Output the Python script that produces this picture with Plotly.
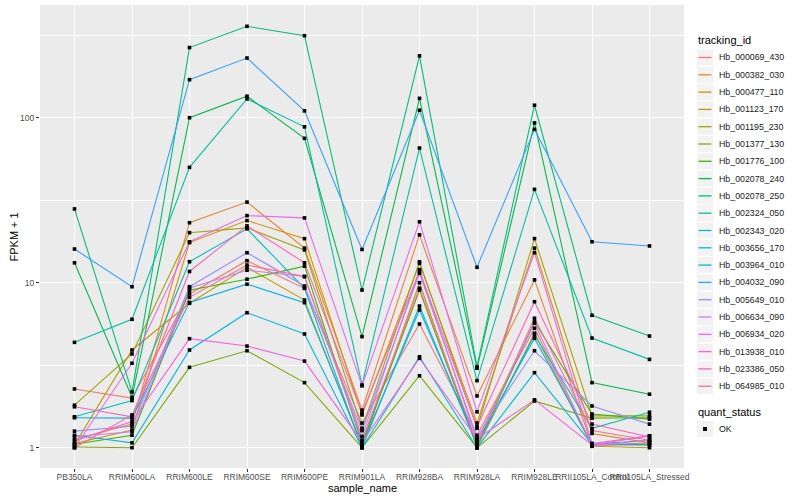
import plotly.graph_objects as go

samples = ["PB350LA", "RRIM600LA", "RRIM600LE", "RRIM600SE", "RRIM600PE", "RRIM901LA",
           "RRIM928BA", "RRIM928LA", "RRIM928LE", "RRII105LA_Control", "RRII105LA_Stressed"]

tracking_ids = ["Hb_000069_430", "Hb_000382_030", "Hb_000477_110", "Hb_001123_170", "Hb_001195_230",
                "Hb_001377_130", "Hb_001776_100", "Hb_002078_240", "Hb_002078_250", "Hb_002324_050",
                "Hb_002343_020", "Hb_003656_170", "Hb_003964_010", "Hb_004032_090", "Hb_005649_010",
                "Hb_006634_090", "Hb_006934_020", "Hb_013938_010", "Hb_023386_050", "Hb_064985_010"]

colors = ["#F8766D", "#EA8331", "#D89000", "#C09B00", "#A3A500", "#7CAE00", "#39B600", "#00BB4E",
          "#00BF7D", "#00C1A3", "#00BFC4", "#00BAE0", "#00B0F6", "#35A2FF", "#9590FF", "#C77CFF",
          "#E76BF3", "#FA62DB", "#FF62BC", "#FF6C91"]

# FPKM + 1 per gene, in sample order
fpkm_000069_430 = [2.27, 2.0, 8.55, 13.6, 9.25, 1.41, 5.62, 1.19, 5.3, 1.03, 1.07]
fpkm_000382_030 = [1.12, 1.39, 23.1, 30.8, 16.2, 1.69, 19.5, 2.06, 10.4, 1.04, 1.04]
fpkm_000477_110 = [1.06, 1.28, 17.5, 23.8, 18.5, 1.58, 13.1, 1.41, 16.2, 1.22, 1.07]
fpkm_001123_170 = [1.04, 3.91, 7.5, 12.4, 7.85, 1.02, 10.0, 1.0, 4.94, 1.02, 1.0]
fpkm_001195_230 = [1.81, 3.70, 20.1, 21.5, 15.8, 1.31, 13.4, 1.31, 18.5, 1.56, 1.56]
fpkm_001377_130 = [1.01, 1.0, 3.07, 3.87, 2.48, 1.0, 2.73, 1.0, 1.92, 1.51, 1.52]
fpkm_001776_100 = [1.05, 1.19, 9.0, 10.5, 12.6, 1.06, 9.03, 1.02, 5.8, 1.60, 1.49]
fpkm_002078_240 = [13.2, 2.02, 100, 135, 75, 4.71, 131, 3.03, 93, 2.48, 2.11]
fpkm_002078_250 = [28.0, 2.18, 266, 358, 314, 9.03, 237, 3.10, 119, 6.35, 4.75]
fpkm_002324_050 = [4.35, 6.0, 50, 130, 88, 2.40, 65.5, 2.55, 36.8, 4.62, 3.43]
fpkm_002343_020 = [1.54, 1.93, 13.4, 21.2, 9.25, 1.0, 7.22, 1.03, 4.82, 1.31, 1.64]
fpkm_003656_170 = [1.19, 1.07, 3.91, 6.58, 4.89, 1.0, 3.56, 1.0, 2.85, 1.05, 1.11]
fpkm_003964_010 = [1.52, 1.51, 7.6, 9.8, 7.57, 1.04, 6.84, 1.08, 4.6, 1.06, 1.04]
fpkm_004032_090 = [16.0, 9.45, 170, 230, 110, 15.9, 111, 12.4, 85, 17.7, 16.7]
fpkm_005649_010 = [1.26, 1.35, 9.46, 15.2, 9.55, 1.27, 11.4, 1.16, 3.87, 1.79, 1.39]
fpkm_006634_090 = [1.17, 1.25, 9.3, 11.9, 10.9, 1.17, 12.0, 1.11, 5.68, 1.03, 1.11]
fpkm_006934_020 = [1.0, 3.25, 17.7, 25.5, 24.7, 2.37, 23.4, 1.65, 15.2, 1.06, 1.18]
fpkm_013938_010 = [1.1, 1.44, 4.58, 4.13, 3.35, 1.08, 3.48, 1.13, 1.95, 1.04, 1.18]
fpkm_023386_050 = [1.77, 1.54, 11.7, 22.1, 13.2, 1.62, 11.7, 1.34, 7.67, 1.39, 1.16]
fpkm_064985_010 = [1.0, 1.58, 8.15, 12.8, 10.9, 1.11, 9.25, 1.06, 6.09, 1.27, 1.11]

series = [fpkm_000069_430, fpkm_000382_030, fpkm_000477_110, fpkm_001123_170, fpkm_001195_230,
          fpkm_001377_130, fpkm_001776_100, fpkm_002078_240, fpkm_002078_250, fpkm_002324_050,
          fpkm_002343_020, fpkm_003656_170, fpkm_003964_010, fpkm_004032_090, fpkm_005649_010,
          fpkm_006634_090, fpkm_006934_020, fpkm_013938_010, fpkm_023386_050, fpkm_064985_010]

y_ticks = [1, 10, 100]
y_tick_labels = ["1", "10", "100"]
quant_status = "OK"

FONT = "Liberation Sans, Arial, sans-serif"
W, H = 800, 500
L, R, T, B = 40, 116, 5, 32          # panel margins in px
PW, PH = W - L - R, H - T - B


def px(xp):      # pixel x -> paper x
    return (xp - L) / PW


def py(yp):      # pixel y -> paper y
    return (H - B - yp) / PH


fig = go.Figure()

for name, col, vals in zip(tracking_ids, colors, series):
    fig.add_trace(go.Scatter(x=samples, y=vals, mode="lines", name=name,
                             line=dict(color=col, width=1.1), showlegend=False))

all_x, all_y = [], []
for vals in series:
    all_x += samples
    all_y += vals
fig.add_trace(go.Scatter(x=all_x, y=all_y, mode="markers", name=quant_status,
                         marker=dict(symbol="square", size=3.6, color="black"), showlegend=False))

# ---- legend drawn in ggplot2 style ----
shapes, annotations = [], []
lx0, key_w, step, first_y = 697, 16, 17.3, 57.5
annotations.append(dict(text="tracking_id", x=px(lx0 - 1), y=py(40), xref="paper", yref="paper",
                        xanchor="left", yanchor="middle", showarrow=False,
                        font=dict(family=FONT, size=11, color="black")))
for i, (name, col) in enumerate(zip(tracking_ids, colors)):
    cy = first_y + i * step
    shapes.append(dict(type="rect", xref="paper", yref="paper", x0=px(lx0), x1=px(lx0 + key_w),
                       y0=py(cy - 8), y1=py(cy + 8), fillcolor="#F2F2F2", line=dict(width=0),
                       layer="below"))
    shapes.append(dict(type="line", xref="paper", yref="paper", x0=px(lx0 + 1.5), x1=px(lx0 + key_w - 1.5),
                       y0=py(cy), y1=py(cy), line=dict(color=col, width=1.3)))
    annotations.append(dict(text=name, x=px(lx0 + key_w + 4), y=py(cy), xref="paper", yref="paper",
                            xanchor="left", yanchor="middle", showarrow=False,
                            font=dict(family=FONT, size=8.8, color="#1A1A1A")))

annotations.append(dict(text="quant_status", x=px(lx0 - 1), y=py(412), xref="paper", yref="paper",
                        xanchor="left", yanchor="middle", showarrow=False,
                        font=dict(family=FONT, size=11, color="black")))
cy = 429
shapes.append(dict(type="rect", xref="paper", yref="paper", x0=px(lx0), x1=px(lx0 + key_w),
                   y0=py(cy - 8), y1=py(cy + 8), fillcolor="#F2F2F2", line=dict(width=0)))
shapes.append(dict(type="rect", xref="paper", yref="paper", x0=px(lx0 + 6), x1=px(lx0 + 10),
                   y0=py(cy - 2), y1=py(cy + 2), fillcolor="black", line=dict(width=0)))
annotations.append(dict(text=quant_status, x=px(lx0 + key_w + 4), y=py(cy), xref="paper", yref="paper",
                        xanchor="left", yanchor="middle", showarrow=False,
                        font=dict(family=FONT, size=8.8, color="#1A1A1A")))

# axis titles
annotations.append(dict(text="sample_name", x=0.5, y=py(488), xref="paper", yref="paper",
                        xanchor="center", yanchor="middle", showarrow=False,
                        font=dict(family=FONT, size=11, color="black")))
annotations.append(dict(text="FPKM + 1", x=px(13), y=0.5, xref="paper", yref="paper",
                        xanchor="center", yanchor="middle", showarrow=False, textangle=-90,
                        font=dict(family=FONT, size=11, color="black")))

fig.update_layout(
    width=W, height=H,
    margin=dict(l=L, r=R, t=T, b=B, autoexpand=False, pad=0),
    paper_bgcolor="white", plot_bgcolor="#EBEBEB",
    font=dict(family=FONT, size=8.5, color="#4D4D4D"),
    showlegend=False,
    shapes=shapes, annotations=annotations,
    xaxis=dict(type="category", categoryorder="array", categoryarray=samples, automargin=False,
               range=[-0.6, len(samples) - 0.4], showgrid=True, gridcolor="white", gridwidth=1.1,
               zeroline=False, ticks="outside", ticklen=2.5, tickcolor="#333333", tickangle=0,
               ticklabelstandoff=-2,
               tickfont=dict(family=FONT, size=8.5, color="#4D4D4D")),
    yaxis=dict(type="log", range=[-0.123, 2.683], tickvals=y_ticks, ticktext=y_tick_labels,
               automargin=False,
               showgrid=True, gridcolor="white", gridwidth=1.1, zeroline=False,
               ticks="outside", ticklen=3, tickcolor="#333333",
               tickfont=dict(family=FONT, size=8.5, color="#4D4D4D"),
               minor=dict(tickvals=[10 ** 0.5, 10 ** 1.5, 10 ** 2.5], showgrid=True,
                          gridcolor="white", gridwidth=0.5, ticks="")),
)

fig.write_html("out.html", config={"displayModeBar": False},
               post_script="document.body.style.margin='0';")
